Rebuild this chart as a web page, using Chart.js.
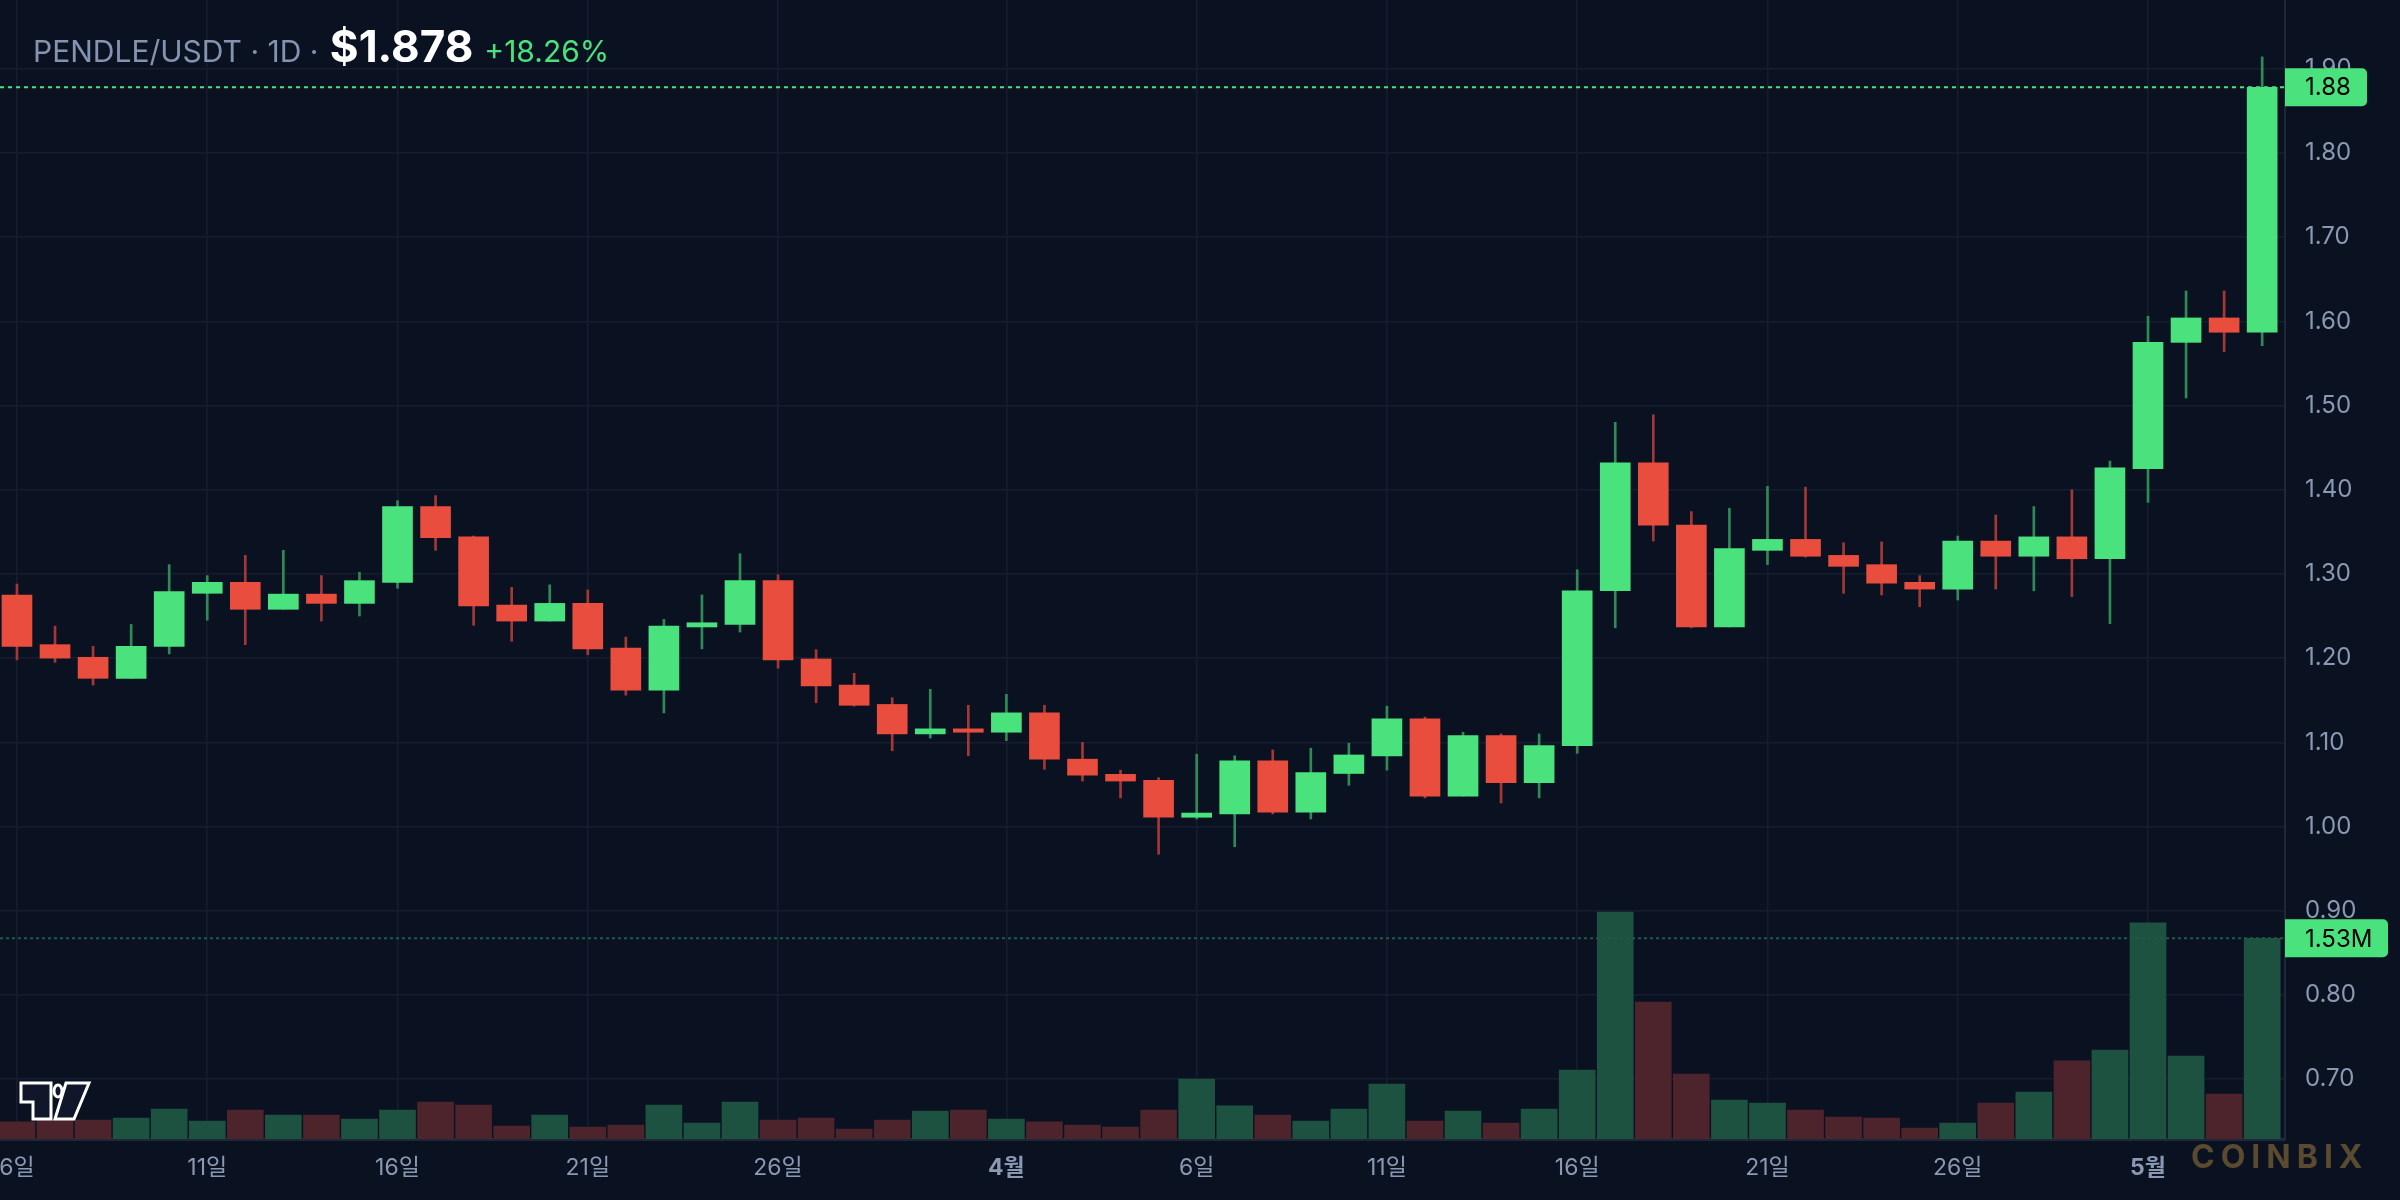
<!DOCTYPE html>
<html lang="ko">
<head>
  <meta charset="UTF-8">
  <title>PENDLE/USDT 1D</title>
  <script src="https://cdn.jsdelivr.net/npm/chart.js"></script>
  <style>
    html, body { margin: 0; padding: 0; background: #0a1222; }
    #wrap { width: 2400px; height: 1200px; }
  </style>
</head>
<body>
  <div id="wrap"><canvas id="pendleChart" width="2400" height="1200"></canvas></div>
  <script>
    // daily candles, Mar 6 .. May 4
    const openP = [1.275,1.216,1.201,1.176,1.214,1.277,1.290,1.258,1.276,1.265,
                   1.290,1.380,1.344,1.263,1.244,1.265,1.212,1.162,1.237,1.240,
                   1.292,1.199,1.168,1.145,1.110,1.116,1.112,1.135,1.080,1.062,
                   1.055,1.011,1.015,1.078,1.017,1.063,1.084,1.128,1.036,1.108,
                   1.052,1.096,1.280,1.432,1.358,1.237,1.328,1.341,1.322,1.311,
                   1.290,1.282,1.339,1.321,1.344,1.318,1.425,1.575,1.604,1.587];
    const highP = [1.288,1.238,1.214,1.240,1.311,1.298,1.322,1.328,1.298,1.302,
                   1.387,1.393,1.345,1.284,1.287,1.281,1.225,1.246,1.275,1.324,
                   1.299,1.210,1.182,1.153,1.163,1.144,1.157,1.144,1.100,1.067,
                   1.058,1.086,1.084,1.091,1.093,1.099,1.143,1.130,1.112,1.110,
                   1.110,1.305,1.480,1.489,1.374,1.378,1.404,1.403,1.337,1.338,
                   1.298,1.345,1.370,1.380,1.400,1.434,1.606,1.636,1.636,1.914];
    const lowP  = [1.198,1.195,1.168,1.176,1.205,1.245,1.216,1.258,1.244,1.250,
                   1.283,1.328,1.239,1.220,1.244,1.204,1.156,1.135,1.211,1.231,
                   1.188,1.147,1.143,1.090,1.105,1.084,1.102,1.068,1.054,1.034,
                   0.967,1.009,0.976,1.015,1.009,1.049,1.067,1.034,1.036,1.028,
                   1.034,1.087,1.236,1.339,1.236,1.237,1.311,1.320,1.277,1.275,
                   1.261,1.269,1.282,1.280,1.273,1.241,1.385,1.509,1.564,1.571];
    const closeP = [1.214,1.200,1.176,1.214,1.279,1.290,1.258,1.276,1.265,1.292,
                    1.380,1.343,1.262,1.244,1.265,1.211,1.162,1.238,1.242,1.292,
                    1.198,1.167,1.144,1.110,1.116,1.112,1.135,1.080,1.061,1.054,
                    1.011,1.016,1.078,1.017,1.064,1.085,1.128,1.036,1.108,1.052,
                    1.096,1.280,1.432,1.358,1.237,1.330,1.341,1.321,1.309,1.289,
                    1.282,1.339,1.321,1.344,1.318,1.426,1.575,1.604,1.587,1.878];
    // volume in millions
    const volM = [0.130,0.145,0.145,0.160,0.229,0.137,0.221,0.183,0.183,0.152,
                  0.221,0.282,0.259,0.099,0.183,0.091,0.107,0.259,0.122,0.282,
                  0.145,0.160,0.076,0.145,0.213,0.221,0.152,0.130,0.107,0.091,
                  0.221,0.457,0.252,0.183,0.137,0.229,0.419,0.137,0.213,0.122,
                  0.229,0.526,1.730,1.044,0.495,0.297,0.274,0.221,0.168,0.160,
                  0.084,0.122,0.274,0.358,0.595,0.678,1.647,0.633,0.343,1.530];

    // x axis labels (candle index -> text)
    const xTickIdx  = [0, 5, 10, 15, 20, 26, 31, 36, 41, 46, 51, 56];
    const xTickText = ['6일','11일','16일','21일','26일','4월','6일','11일','16일','21일','26일','5월'];
    const priceTicks = [0.7,0.8,0.9,1.0,1.1,1.2,1.3,1.4,1.5,1.6,1.7,1.8,1.9];

    const headPair = 'PENDLE/USDT · 1D · ';
    const headPrice = '$1.878';
    const headChange = '+18.26%';

    const BG = '#0a1222';
    const UP = '#4ae27d', DOWN = '#e84d3e';
    const UP_WICK = '#2f8a55', DOWN_WICK = '#a53836';
    const UP_VOL = '#1d5240', DOWN_VOL = '#4d232c';
    const GRID = '#151d2e';
    const TXT = '#8a98b2';
    const FONT = "Inter, 'Noto Sans CJK KR', sans-serif";

    const isUp = openP.map((o, i) => closeP[i] >= o);
    const bodies = openP.map((o, i) => ({ x: i, y: [Math.min(o, closeP[i]), Math.max(o, closeP[i])] }));
    const wicks = lowP.map((l, i) => ({ x: i, y: [l, highP[i]] }));
    const vols = volM.map((v, i) => ({ x: i, y: v }));

    const bgPlugin = {
      id: 'bg',
      beforeDraw(chart) {
        const c = chart.ctx;
        c.save();
        c.fillStyle = BG;
        c.fillRect(0, 0, chart.width, chart.height);
        c.restore();
      }
    };

    function tag(c, x, y, w, h, text) {
      c.fillStyle = UP;
      c.beginPath();
      c.roundRect(x, y - h / 2, w, h, [0, 5, 5, 0]);
      c.fill();
      c.fillStyle = '#000000';
      c.font = '24px ' + FONT;
      c.textAlign = 'left';
      c.textBaseline = 'middle';
      c.fillText(text, x + 20, y + 1);
    }

    const overlayPlugin = {
      id: 'overlay',
      afterDraw(chart) {
        const c = chart.ctx;
        const area = chart.chartArea;
        const last = closeP.length - 1;
        const yp = chart.scales.y.getPixelForValue(closeP[last]);
        const yv = chart.scales.yv.getPixelForValue(volM[last]);
        c.save();

        // last price / last volume lines
        c.setLineDash([4, 4]);
        c.lineWidth = 2;
        c.strokeStyle = UP;
        c.beginPath(); c.moveTo(area.left, yp); c.lineTo(area.right, yp); c.stroke();
        c.strokeStyle = '#1f5a46';
        c.setLineDash([3, 3]);
        c.beginPath(); c.moveTo(area.left, yv); c.lineTo(area.right, yv); c.stroke();
        c.setLineDash([]);

        tag(c, area.right, yp, 82, 38, closeP[last].toFixed(2));
        tag(c, area.right, yv, 103, 38, volM[last].toFixed(2) + 'M');

        // header
        c.textBaseline = 'alphabetic';
        c.textAlign = 'left';
        let x = 33;
        c.font = '30px ' + FONT;
        c.fillStyle = '#8493b0';
        c.fillText(headPair, x, 62);
        x += c.measureText(headPair).width + 3;
        c.font = 'bold 44px ' + FONT;
        c.fillStyle = '#ffffff';
        c.fillText(headPrice, x, 62);
        x += c.measureText(headPrice).width + 11;
        c.font = '30px ' + FONT;
        c.fillStyle = UP;
        c.fillText(headChange, x, 62);

        // small logo bottom-left
        c.lineWidth = 3;
        c.strokeStyle = '#ffffff';
        c.fillStyle = '#10172a';
        c.beginPath();
        c.moveTo(21, 1083); c.lineTo(51, 1083); c.lineTo(51, 1119); c.lineTo(33, 1119);
        c.lineTo(33, 1102); c.lineTo(21, 1102); c.closePath();
        c.fill(); c.stroke();
        c.beginPath(); c.ellipse(58, 1091, 4, 6, 0, 0, Math.PI * 2); c.fill(); c.stroke();
        c.beginPath();
        c.moveTo(66, 1083); c.lineTo(89, 1083); c.lineTo(74, 1119); c.lineTo(55, 1119); c.closePath();
        c.fill(); c.stroke();

        // watermark
        c.font = 'bold 32px ' + FONT;
        c.fillStyle = '#5a4a2f';
        c.textBaseline = 'middle';
        if ('letterSpacing' in c) c.letterSpacing = '6px';
        c.fillText('COINBIX', 2191, 1158);
        c.restore();
      }
    };

    const ctx = document.getElementById('pendleChart').getContext('2d');
    new Chart(ctx, {
      type: 'bar',
      data: {
        datasets: [
          {
            label: 'body', data: bodies, yAxisID: 'y', order: 1, grouped: false,
            barThickness: 30, minBarLength: 3,
            backgroundColor: isUp.map(u => u ? UP : DOWN)
          },
          {
            label: 'wick', data: wicks, yAxisID: 'y', order: 2, grouped: false,
            barThickness: 2,
            backgroundColor: isUp.map(u => u ? UP_WICK : DOWN_WICK)
          },
          {
            label: 'volume', data: vols, yAxisID: 'yv', order: 3, grouped: false,
            barThickness: 36,
            backgroundColor: isUp.map(u => u ? UP_VOL : DOWN_VOL)
          }
        ]
      },
      options: {
        responsive: false,
        animation: false,
        layout: { padding: 0 },
        plugins: { legend: { display: false }, tooltip: { enabled: false } },
        scales: {
          x: {
            type: 'linear',
            offset: false,
            min: -0.446,
            max: 59.6,
            afterFit: s => { s.height = 61; s.paddingLeft = 0; s.paddingRight = 0; },
            afterBuildTicks: s => { s.ticks = xTickIdx.map(v => ({ value: v })); },
            grid: { color: GRID, lineWidth: 1.5, drawTicks: false, offset: false },
            border: { display: true, color: '#1f2839', width: 3 },
            ticks: {
              padding: 15,
              color: TXT,
              maxRotation: 0,
              autoSkip: false,
              font: c => ({ family: FONT, size: 23, weight: xTickText[c.index] && xTickText[c.index].includes('월') ? 'bold' : 'normal' }),
              callback: v => xTickText[xTickIdx.indexOf(v)]
            }
          },
          y: {
            position: 'right',
            min: 0.6289,
            max: 1.9816,
            afterFit: s => { s.width = 115; s.paddingTop = 0; s.paddingBottom = 0; },
            afterBuildTicks: s => { s.ticks = priceTicks.map(v => ({ value: v })); },
            grid: { color: GRID, lineWidth: 1.5, drawTicks: false },
            border: { display: true, color: '#1f2839', width: 2 },
            ticks: {
              padding: 20,
              crossAlign: 'near',
              color: TXT,
              font: { family: FONT, size: 24 },
              callback: v => v.toFixed(2)
            }
          },
          yv: {
            display: false,
            min: 0,
            max: 8.683
          }
        }
      },
      plugins: [bgPlugin, overlayPlugin]
    });
  </script>
</body>
</html>
